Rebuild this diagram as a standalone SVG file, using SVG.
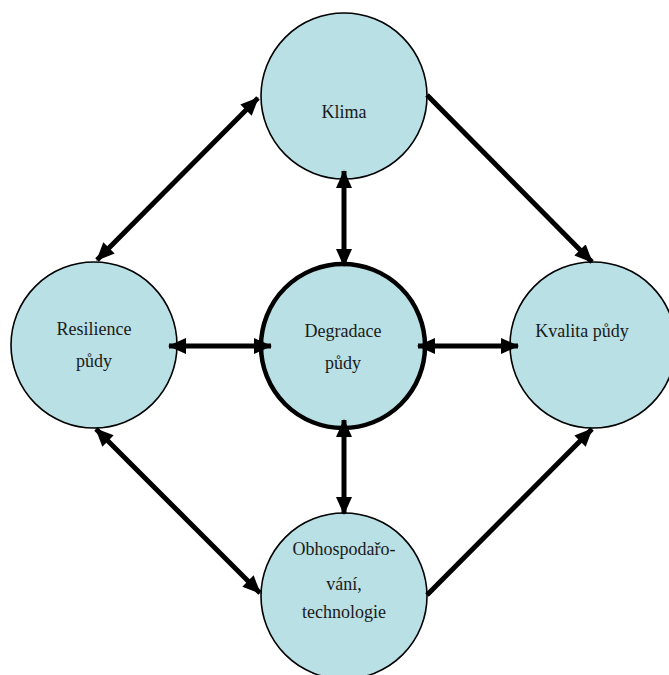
<svg xmlns="http://www.w3.org/2000/svg" width="669" height="675" viewBox="0 0 669 675">
<style>
.node{fill:#b9e0e4;stroke:#000;stroke-width:1.6}
.core{fill:#b9e0e4;stroke:#000;stroke-width:4.5}
.lbl{font-family:"Liberation Serif","Times New Roman",serif;font-size:18px;fill:#1a1a1a;text-anchor:middle}
.con{stroke:#000;stroke-width:5;fill:none}
</style>
<defs>
<marker id="ah" markerUnits="userSpaceOnUse" markerWidth="18" markerHeight="16" viewBox="0 0 18 16" refX="17" refY="8" orient="auto-start-reverse">
<path d="M0,0 L18,8 L0,16 Z" fill="#000"/>
</marker>
</defs>
<rect width="669" height="675" fill="#fff"/>
<g id="klima"><circle class="node" cx="344" cy="96" r="83"/><text class="lbl" x="344" y="118">Klima</text></g>
<g id="resilience"><circle class="node" cx="94" cy="345" r="83"/><text class="lbl" x="94" y="335">Resilience</text><text class="lbl" x="94" y="367">půdy</text></g>
<g id="degradace"><circle class="core" cx="343" cy="346" r="82"/><text class="lbl" x="343" y="337">Degradace</text><text class="lbl" x="343" y="369">půdy</text></g>
<g id="kvalita"><circle class="node" cx="593" cy="345" r="83"/><text class="lbl" x="582" y="337">Kvalita půdy</text></g>
<g id="obhospodarovani"><circle class="node" cx="344" cy="596" r="83"/><text class="lbl" x="344" y="555">Obhospodařo-</text><text class="lbl" x="344" y="590">vání,</text><text class="lbl" x="344" y="618">technologie</text></g>
<g id="connectors">
<line class="con" x1="344" y1="171" x2="344" y2="266" marker-start="url(#ah)" marker-end="url(#ah)"/>
<line class="con" x1="344" y1="420" x2="344" y2="514" marker-start="url(#ah)" marker-end="url(#ah)"/>
<line class="con" x1="169" y1="346" x2="271" y2="346" marker-start="url(#ah)" marker-end="url(#ah)"/>
<line class="con" x1="418" y1="346" x2="518" y2="346" marker-start="url(#ah)" marker-end="url(#ah)"/>
<line class="con" x1="258" y1="98" x2="97" y2="260" marker-start="url(#ah)" marker-end="url(#ah)"/>
<line class="con" x1="96" y1="429" x2="260" y2="593" marker-start="url(#ah)" marker-end="url(#ah)"/>
<line class="con" x1="427" y1="95" x2="592" y2="262" marker-end="url(#ah)"/>
<line class="con" x1="427" y1="595" x2="592" y2="429" marker-end="url(#ah)"/>
</g>
</svg>
